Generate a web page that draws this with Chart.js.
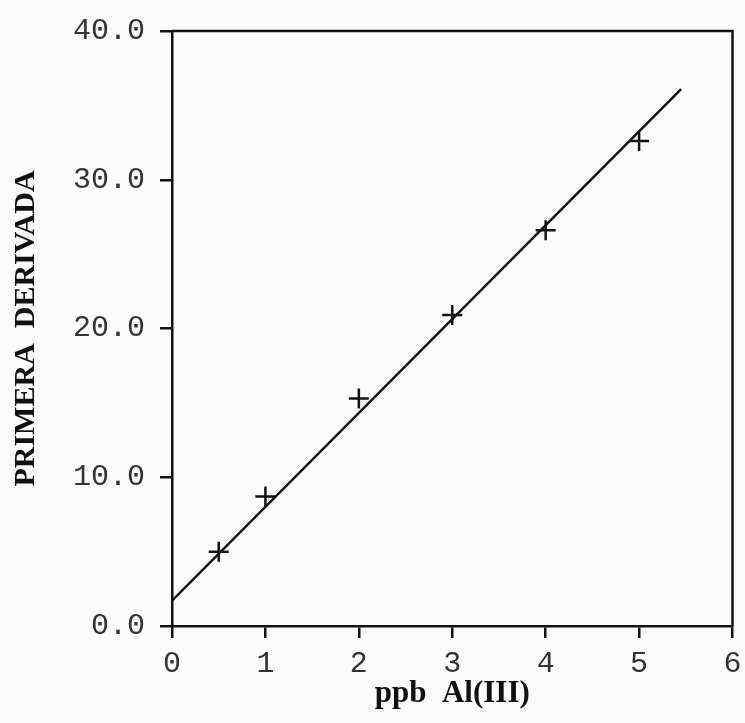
<!DOCTYPE html>
<html>
<head>
<meta charset="utf-8">
<script src="https://cdn.jsdelivr.net/npm/chart.js@4.4.1/dist/chart.umd.min.js"></script>
<style>
  html, body { margin: 0; padding: 0; background: #fbfbfb; }
  #wrap { width: 745px; height: 723px; }
</style>
</head>
<body>
<div id="wrap"><canvas id="c" width="745" height="723"></canvas></div>
<script>
// Calibration standards: concentration (ppb Al(III)) and first-derivative signal
const concentrations = [0.5, 1, 2, 3, 4, 5];
const derivativeValues = [5.0, 8.7, 15.3, 20.9, 26.6, 32.6];

// Regression line, drawn between its two end points
const fitX = [0, 5.45];
const fitY = [1.7, 36.1];

// Axis tick labels
const xTickLabels = ['0', '1', '2', '3', '4', '5', '6'];
const yTickLabels = ['0.0', '10.0', '20.0', '30.0', '40.0'];

const points = concentrations.map((x, i) => ({ x, y: derivativeValues[i] }));
const fitLine = fitX.map((x, i) => ({ x, y: fitY[i] }));

// Closes the plot frame on the top and right sides
const frame = {
  id: 'frame',
  afterDraw(chart) {
    const { ctx, chartArea: a } = chart;
    ctx.save();
    ctx.strokeStyle = '#111';
    ctx.lineWidth = 2.5;
    ctx.beginPath();
    ctx.moveTo(a.left, a.top);
    ctx.lineTo(a.right, a.top);
    ctx.lineTo(a.right, a.bottom);
    ctx.stroke();
    ctx.restore();
  }
};

const tickFont = { family: "'Liberation Mono', 'DejaVu Sans Mono', monospace", size: 30 };
const yTitleFont = { family: "'Liberation Serif', 'DejaVu Serif', serif", size: 30, weight: 'bold' };
const xTitleFont = { family: "'Liberation Serif', 'DejaVu Serif', serif", size: 31, weight: 'bold' };

new Chart(document.getElementById('c'), {
  type: 'scatter',
  data: {
    datasets: [
      {
        label: 'fit',
        type: 'line',
        data: fitLine,
        borderColor: '#111',
        borderWidth: 2.5,
        pointRadius: 0,
        fill: false,
        tension: 0
      },
      {
        label: 'standards',
        data: points,
        pointStyle: 'cross',
        pointRadius: 10,
        pointBorderWidth: 2.5,
        borderColor: '#111',
        backgroundColor: '#111'
      }
    ]
  },
  options: {
    responsive: false,
    animation: false,
    layout: { padding: { top: 31, right: 9, left: 0, bottom: 0 } },
    plugins: { legend: { display: false }, tooltip: { enabled: false } },
    scales: {
      x: {
        type: 'linear',
        min: 0,
        max: 6,
        afterBuildTicks(scale) {
          scale.ticks = xTickLabels.map(v => ({ value: Number(v) }));
        },
        ticks: {
          color: '#333',
          font: tickFont,
          padding: 8,
          maxRotation: 0,
          callback: (v, i) => xTickLabels[i]
        },
        grid: { display: true, drawOnChartArea: false, drawTicks: true, tickLength: 12, color: '#111', lineWidth: 2.5 },
        border: { display: true, color: '#111', width: 2.5 },
        title: {
          display: true,
          text: 'ppb  Al(III)',
          color: '#111',
          font: xTitleFont,
          padding: { top: 0, bottom: 10 }
        },
        afterFit(scale) {
          scale.height = 97;
          scale.paddingLeft = 0;
          scale.paddingRight = 0;
        }
      },
      y: {
        type: 'linear',
        min: 0,
        max: 40,
        afterBuildTicks(scale) {
          scale.ticks = yTickLabels.map(v => ({ value: Number(v) }));
        },
        ticks: {
          color: '#333',
          font: tickFont,
          padding: 15,
          callback: (v, i) => yTickLabels[i]
        },
        grid: { display: true, drawOnChartArea: false, drawTicks: true, tickLength: 12, color: '#111', lineWidth: 2.5 },
        border: { display: true, color: '#111', width: 2.5 },
        title: {
          display: true,
          text: 'PRIMERA  DERIVADA',
          color: '#111',
          font: yTitleFont,
          padding: { top: 8, bottom: 0 }
        },
        afterFit(scale) {
          scale.width = 172;
          scale.paddingTop = 0;
          scale.paddingBottom = 0;
        }
      }
    }
  },
  plugins: [frame]
});
</script>
</body>
</html>
